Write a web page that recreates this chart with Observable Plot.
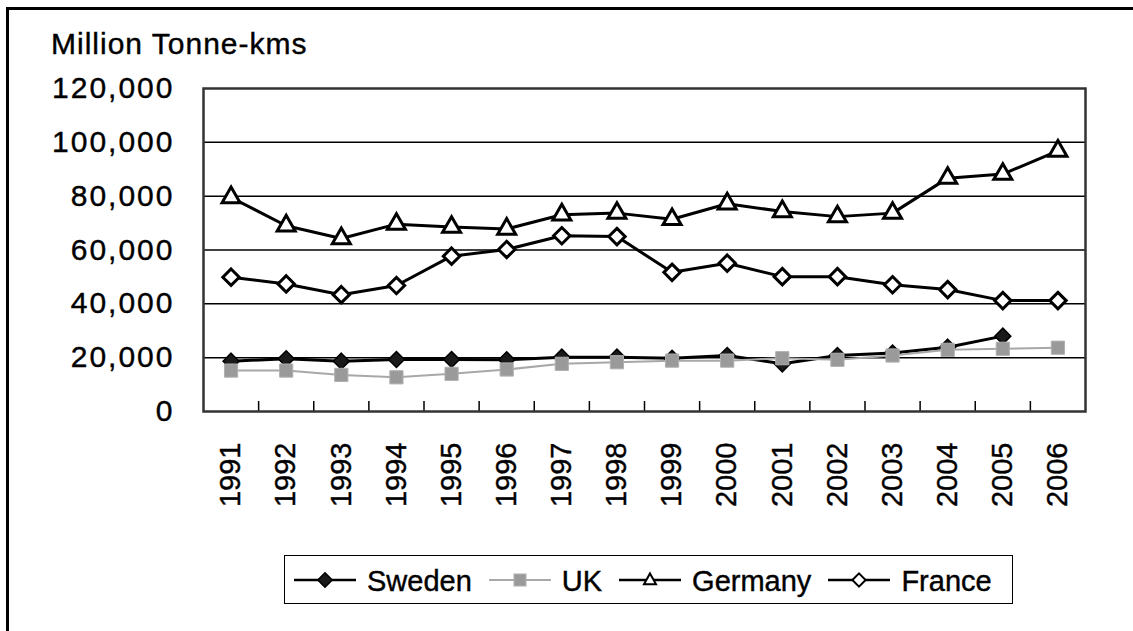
<!DOCTYPE html>
<html>
<head>
<meta charset="utf-8">
<script src="https://cdn.jsdelivr.net/npm/d3@7"></script>
<script src="https://cdn.jsdelivr.net/npm/@observablehq/plot@0.6"></script>
<style>
  html, body { margin: 0; padding: 0; background: #fff; }
  body { width: 1133px; height: 631px; position: relative; overflow: hidden; font-family: "Liberation Sans", Arial, sans-serif; }
  #frame { position: absolute; left: 6px; top: 7px; width: 1200px; height: 700px; border-left: 3px solid #000; border-top: 3px solid #000; }
  #chart { position: absolute; left: 0; top: 0; }
  #title { position: absolute; left: 51px; top: 26px; font-size: 30px; letter-spacing: 1px; color: #000; line-height: 36px; white-space: nowrap; -webkit-text-stroke: 0.4px #000; }
  #legend { position: absolute; left: 284px; top: 555px; width: 718px; height: 47px; border: 1.5px solid #000; display: flex; align-items: center; padding-left: 9px; box-sizing: content-box; font-size: 29px; white-space: nowrap; -webkit-text-stroke: 0.4px #000; }
  #legend .item { display: flex; align-items: center; margin-right: 17px; }
  #legend svg { margin-right: 11px; }
  #legend span { position: relative; top: 2px; }
  g[aria-label="y-axis tick label"] text { letter-spacing: 2px; }
  g[aria-label="y-axis tick label"], g[aria-label="x-axis tick label"] { stroke: #000; stroke-width: 0.4px; }
</style>
</head>
<body>
<div id="frame"></div>
<div id="chart"></div>
<div id="title">Million Tonne-kms</div>
<div id="legend"></div>
<script>
const years = [1991, 1992, 1993, 1994, 1995, 1996, 1997, 1998, 1999, 2000, 2001, 2002, 2003, 2004, 2005, 2006];
const sweden  = [18700, 19600, 18700, 19300, 19300, 19200, 20200, 20200, 19800, 20800, 17700, 20800, 21700, 23900, 28000, null];
const uk      = [15200, 15200, 13600, 12700, 14000, 15600, 17700, 18300, 18900, 18900, 19800, 19200, 20800, 22900, 23300, 23700];
const germany = [79500, 69000, 64300, 69600, 68500, 67800, 73100, 73700, 71400, 77200, 74300, 72400, 73700, 86700, 88200, 96800];
const france  = [49900, 47400, 43400, 46800, 57700, 60200, 65300, 65000, 51700, 55100, 50100, 50100, 47100, 45300, 41200, 41200];
const seriesNames = ["Sweden", "UK", "Germany", "France"];
const yTicks = [0, 20000, 40000, 60000, 80000, 100000, 120000];
const gridValues = [20000, 40000, 60000, 80000, 100000];

const rows = (vals) => years.map((y, i) => ({year: y, value: vals[i]})).filter(d => d.value != null);
const boundaries = years.slice(0, -1).map(y => y + 0.5);

const W = 1133, H = 631;
const mTop = 88, mLeft = 203, mRight = W - 1085, mBottom = H - 411;

const plot = Plot.plot({
  width: W,
  height: H,
  marginTop: mTop,
  marginLeft: mLeft,
  marginRight: mRight,
  marginBottom: mBottom,
  style: {fontFamily: "Liberation Sans, Arial, sans-serif", color: "#000", background: "transparent"},
  x: {type: "linear", domain: [years[0] - 0.5, years[years.length - 1] + 0.5]},
  y: {domain: [0, 120000]},
  marks: [
    Plot.ruleY(gridValues, {stroke: "#000", strokeWidth: 1.5}),
    Plot.ruleX(boundaries, {stroke: "#000", strokeWidth: 1.5, insetTop: (411 - 88) - 10}),
    Plot.frame({stroke: "#333", strokeWidth: 2.5}),
    Plot.axisY({ticks: yTicks, tickFormat: d3.format(","), tickSize: 0, tickPadding: 29, fontSize: 30, label: null}),
    Plot.axisX({ticks: years, tickFormat: d => String(d), tickSize: 0, tickPadding: 31, tickRotate: -90, fontSize: 29, label: null}),
    // Sweden
    Plot.line(rows(sweden), {x: "year", y: "value", stroke: "#000", strokeWidth: 3}),
    Plot.dot(rows(sweden), {x: "year", y: "value", symbol: "diamond2", r: 7.2, fill: "#1a1a1a", stroke: "#000", strokeWidth: 1.5}),
    // UK
    Plot.line(rows(uk), {x: "year", y: "value", stroke: "#a8a8a8", strokeWidth: 2}),
    Plot.dot(rows(uk), {x: "year", y: "value", symbol: "square2", r: 8.4, fill: "#9a9a9a", stroke: "#b0b0b0", strokeWidth: 1}),
    // Germany
    Plot.line(rows(germany), {x: "year", y: "value", stroke: "#000", strokeWidth: 3}),
    Plot.dot(rows(germany), {x: "year", y: "value", symbol: "triangle2", r: 8.6, fill: "#fff", stroke: "#000", strokeWidth: 3}),
    // France
    Plot.line(rows(france), {x: "year", y: "value", stroke: "#000", strokeWidth: 3}),
    Plot.dot(rows(france), {x: "year", y: "value", symbol: "diamond2", r: 7.4, fill: "#fff", stroke: "#000", strokeWidth: 3})
  ]
});
document.getElementById("chart").appendChild(plot);

// Legend
const swatch = {
  Sweden: {line: "#000", lw: 2.5, sym: "diamond", fill: "#1a1a1a", stroke: "#000", sw: 1.5, size: 6},
  UK: {line: "#a8a8a8", lw: 1.8, sym: "square", fill: "#9a9a9a", stroke: "#b0b0b0", sw: 1, size: 6},
  Germany: {line: "#000", lw: 2.5, sym: "triangle", fill: "#fff", stroke: "#000", sw: 2, size: 6},
  France: {line: "#000", lw: 2.5, sym: "diamond", fill: "#fff", stroke: "#000", sw: 2, size: 5.5}
};
const legend = document.getElementById("legend");
seriesNames.forEach(name => {
  const s = swatch[name];
  const item = document.createElement("div");
  item.className = "item";
  const c = 31, m = 15, k = s.size;
  let shape;
  if (s.sym === "diamond") shape = `<path d="M${c},${m - k * 1.2}L${c + k * 1.2},${m}L${c},${m + k * 1.2}L${c - k * 1.2},${m}Z"/>`;
  else if (s.sym === "square") shape = `<rect x="${c - k}" y="${m - k}" width="${2 * k}" height="${2 * k}"/>`;
  else shape = `<path d="M${c},${m - k * 1.1}L${c + k},${m + k * 0.7}L${c - k},${m + k * 0.7}Z"/>`;
  item.innerHTML = `<svg width="62" height="30"><line x1="0" x2="62" y1="${m}" y2="${m}" stroke="${s.line}" stroke-width="${s.lw}"/><g fill="${s.fill}" stroke="${s.stroke}" stroke-width="${s.sw}">${shape}</g></svg><span>${name}</span>`;
  legend.appendChild(item);
});
</script>
</body>
</html>
